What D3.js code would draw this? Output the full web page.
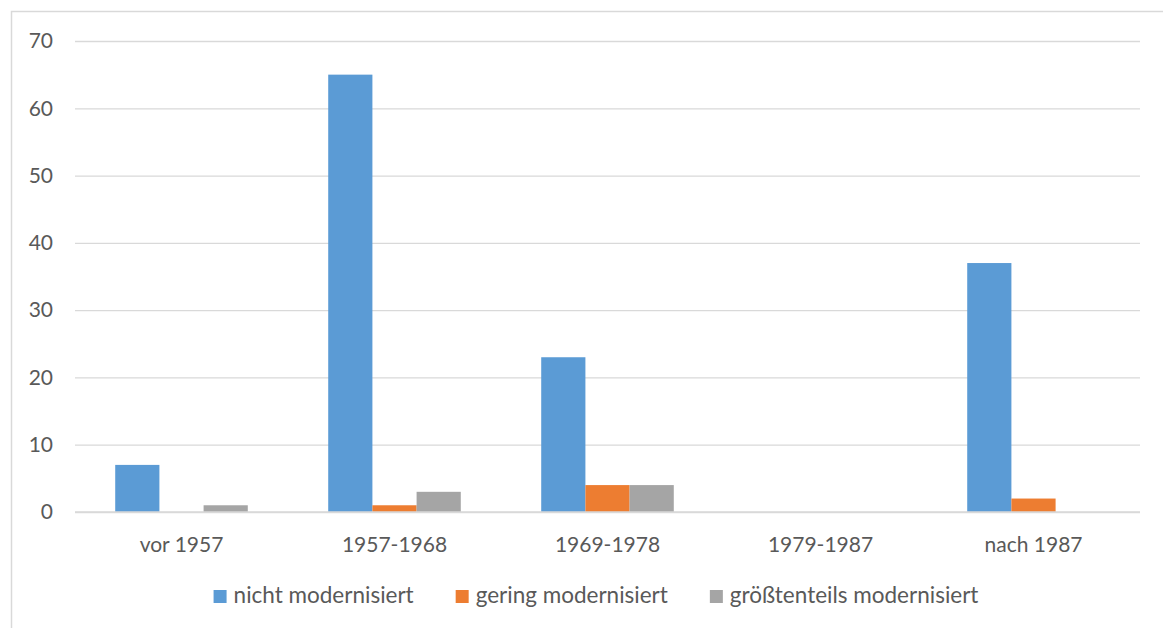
<!DOCTYPE html>
<html>
<head>
<meta charset="utf-8">
<script src="https://cdn.jsdelivr.net/npm/d3@7"></script>
<style>
  html, body { margin: 0; padding: 0; background: #fff; }
  svg { display: block; }
  text { font-family: Lato, "Open Sans", sans-serif; fill: #595959; }
</style>
</head>
<body>
<svg id="chart" width="1163" height="628"></svg>
<script>
const categories = ["vor 1957", "1957-1968", "1969-1978", "1979-1987", "nach 1987"];
const seriesNames = ["nicht modernisiert", "gering modernisiert", "größtenteils modernisiert"];
const nichtModernisiert = [7, 65, 23, 0, 37];
const geringModernisiert = [0, 1, 4, 0, 2];
const groesstenteilsModernisiert = [1, 3, 4, 0, 0];
const yTicks = [0, 10, 20, 30, 40, 50, 60, 70];
const colors = ["#5B9BD5", "#ED7D31", "#A5A5A5"];

const seriesValues = [nichtModernisiert, geringModernisiert, groesstenteilsModernisiert];

const svg = d3.select("#chart");
const W = 1163, H = 628;
const plot = { left: 75, right: 1140, top: 41, bottom: 512 };

// outer chart border
svg.append("rect")
  .attr("x", 11.5).attr("y", 11.5)
  .attr("width", W + 10).attr("height", H + 10)
  .attr("fill", "none").attr("stroke", "#D9D9D9").attr("stroke-width", 1.5);

const x = d3.scaleBand().domain(categories).range([plot.left, plot.right]).paddingInner(0).paddingOuter(0);
const xInner = d3.scaleBand().domain(seriesNames).range([0, x.bandwidth()]).paddingInner(0).paddingOuter(0.91);
const y = d3.scaleLinear().domain([0, 70]).range([plot.bottom, plot.top]);

// gridlines
const yAxis = d3.axisLeft(y).tickValues(yTicks).tickSize(-(plot.right - plot.left)).tickPadding(22).tickFormat(d3.format("d"));
const gy = svg.append("g").attr("transform", `translate(${plot.left},0)`).call(yAxis);
gy.select(".domain").remove();
gy.selectAll(".tick line").attr("stroke", "#D9D9D9").attr("stroke-width", 1.3);
gy.selectAll(".tick text").attr("font-size", 21).attr("fill", "#595959")
  .style("font-family", "Lato, 'Open Sans', sans-serif");

// bars
const groups = svg.append("g").selectAll("g")
  .data(categories).join("g")
  .attr("transform", d => `translate(${x(d)},0)`);

groups.selectAll("rect")
  .data((c, i) => seriesNames.map((s, k) => ({ s, k, v: seriesValues[k][i] })))
  .join("rect")
  .attr("x", d => xInner(d.s))
  .attr("width", xInner.bandwidth())
  .attr("y", d => y(d.v))
  .attr("height", d => y(0) - y(d.v))
  .attr("fill", d => colors[d.k]);

// zero line on top
svg.append("line")
  .attr("x1", plot.left).attr("x2", plot.right)
  .attr("y1", y(0)).attr("y2", y(0))
  .attr("stroke", "#D9D9D9").attr("stroke-width", 1.3);

// x axis labels
const xAxis = d3.axisBottom(x).tickSize(0).tickPadding(0);
const gx = svg.append("g").attr("transform", `translate(0,${plot.bottom})`).call(xAxis);
gx.select(".domain").remove();
gx.selectAll(".tick text").attr("font-size", 21).attr("fill", "#595959")
  .attr("dy", null).attr("y", 40)
  .style("font-family", "Lato, 'Open Sans', sans-serif");

// legend
const legend = svg.append("g");
const items = legend.selectAll("g").data(seriesNames).join("g");
items.append("rect").attr("width", 13).attr("height", 13).attr("y", -13)
  .attr("fill", (d, i) => colors[i]);
items.append("text").attr("x", 20).attr("y", 0).attr("font-size", 22.5).text(d => d);
let cx = 0;
const widths = [];
items.each(function () {
  const w = d3.select(this).select("text").node().getComputedTextLength();
  widths.push(20 + w);
});
const gap = 42;
const total = d3.sum(widths) + gap * (widths.length - 1);
const startX = 596 - total / 2;
items.attr("transform", (d, i) => {
  const t = `translate(${startX + cx},603)`;
  cx += widths[i] + gap;
  return t;
});
</script>
</body>
</html>
